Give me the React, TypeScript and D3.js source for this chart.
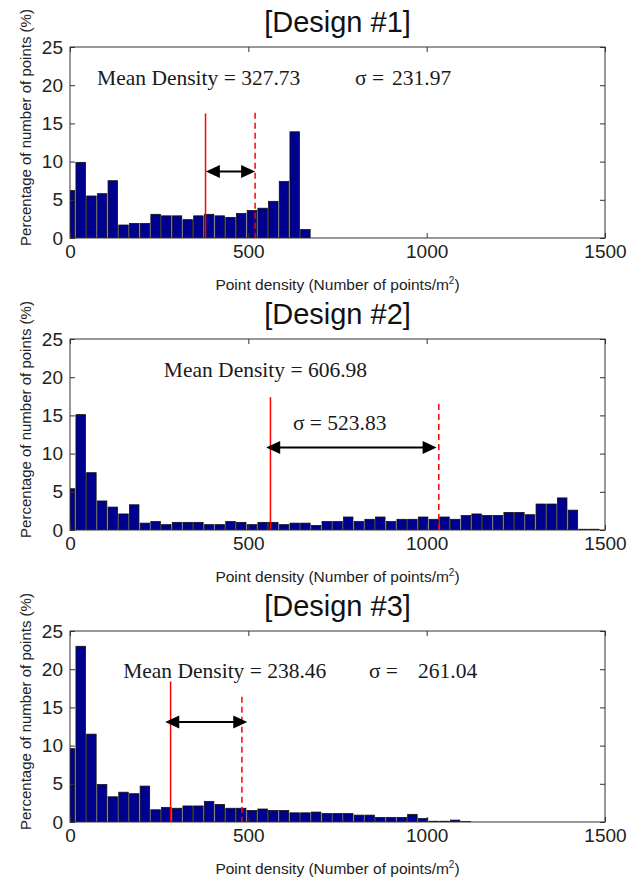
import React, { useEffect, useRef } from 'react'
import * as d3 from 'd3'

// histogram bin width (units of points/m^2), bins centred at 0, 30, 60 ...
const binWidth = 30

// percentage of number of points in each bin
const design1 = [6.2, 9.9, 5.5, 5.8, 7.5, 1.7, 1.9, 1.9, 3.1, 2.9, 2.9, 2.4, 2.9, 3.1, 2.9, 2.7,
  3.2, 3.6, 3.9, 4.8, 7.4, 13.9, 1.1]
const design2 = [5.4, 15.1, 7.5, 3.8, 3.0, 2.1, 3.3, 0.9, 1.1, 0.7, 1.0, 1.0, 1.0, 0.7, 0.7, 1.1,
  1.0, 0.7, 1.0, 1.0, 0.7, 0.9, 0.9, 0.6, 1.1, 1.1, 1.7, 1.1, 1.4, 1.7, 1.1, 1.4, 1.4, 1.7, 1.4,
  1.7, 1.4, 1.9, 2.1, 1.9, 1.9, 2.3, 2.3, 2.0, 3.4, 3.4, 4.2, 2.6, 0.1, 0.1]
const design3 = [9.6, 23.0, 11.5, 4.9, 3.3, 3.9, 3.7, 4.7, 1.6, 1.9, 1.8, 2.1, 2.1, 2.7, 2.3, 1.8,
  1.8, 1.5, 1.7, 1.5, 1.5, 1.2, 1.2, 1.3, 1.1, 1.1, 1.1, 0.9, 0.9, 0.6, 0.6, 0.6, 1.0, 0.45, 0.1,
  0.1, 0.25, 0.05]

const titles = ['[Design #1]', '[Design #2]', '[Design #3]']
const xTicks = [0, 500, 1000, 1500]
const yTicks = [0, 5, 10, 15, 20, 25]

// annotations (x in points/m^2, y in %)
const meanLabels = ['Mean Density = 327.73', 'Mean Density = 606.98', 'Mean Density = 238.46']
const meanLabelX = [76, 263, 149]
const meanLabelY = [20.0, 20.0, 18.8]
const sigmaSign = ['σ =', 'σ = 523.83', 'σ =']
const sigmaSignX = [799, 625, 838]
const sigmaValue = ['231.97', '', '261.04']
const sigmaValueX = [903, 0, 976]
const sigmaY = [20.0, 13.1, 18.8]

const solidLineX = [380, 562, 282]
const solidLineTop = [16.3, 17.4, 18.4]
const dashedLineX = [519, 1034, 482]
const dashedLineTop = [16.4, 16.5, 16.4]
const arrowFrom = [381, 550, 267]
const arrowTo = [519, 1028, 497]
const arrowY = [8.7, 10.8, 13.1]

const values = [design1, design2, design3]

export default function App() {
  const ref = useRef<SVGSVGElement>(null)

  useEffect(() => {
    const svg = d3.select(ref.current)
    svg.selectAll('*').remove()

    const left = 70, right = 605, plotH = 191
    const tops = [47, 339, 631]
    const x = d3.scaleLinear().domain([0, 1500]).range([left, right])
    const sans = "Arial, 'Liberation Sans', sans-serif"
    const serif = "'Times New Roman', 'Liberation Serif', serif"
    const fmt = d3.format('d')

    values.forEach((vals, i) => {
      const top = tops[i], bottom = top + plotH
      const y = d3.scaleLinear().domain([0, 25]).range([bottom, top])
      const g = svg.append('g')

      const clipId = 'plotclip' + i
      svg.append('clipPath').attr('id', clipId)
        .append('rect').attr('x', left).attr('y', top).attr('width', right - left).attr('height', plotH)

      // bars
      const bw = x(binWidth) - x(0)
      g.append('g').attr('clip-path', `url(#${clipId})`)
        .selectAll('rect').data(vals).join('rect')
        .attr('x', (d, j) => x(j * binWidth - binWidth / 2) + 0.6)
        .attr('width', bw - 1.2)
        .attr('y', d => y(d))
        .attr('height', d => y(0) - y(d))
        .attr('fill', '#000090')
        .attr('stroke', '#111')
        .attr('stroke-width', 0.8)

      // axes, matlab style ticks inside on all sides
      const styleAxis = (a: any) => {
        a.select('.domain').remove()
        a.selectAll('line').attr('stroke', '#333')
        a.selectAll('text').attr('font-family', sans).attr('font-size', 19).attr('fill', '#222')
      }
      g.append('g').attr('transform', `translate(0,${bottom})`)
        .call(d3.axisBottom(x).tickValues(xTicks).tickFormat(fmt).tickSize(-5).tickPadding(7))
        .call(styleAxis)
      g.append('g').attr('transform', `translate(0,${top})`)
        .call(d3.axisTop(x).tickValues(xTicks).tickSize(-5).tickFormat(() => ''))
        .call(styleAxis)
      g.append('g').attr('transform', `translate(${left},0)`)
        .call(d3.axisLeft(y).tickValues(yTicks).tickFormat(fmt).tickSize(-5).tickPadding(7))
        .call(styleAxis)
      g.append('g').attr('transform', `translate(${right},0)`)
        .call(d3.axisRight(y).tickValues(yTicks).tickSize(-5).tickFormat(() => ''))
        .call(styleAxis)

      g.append('rect').attr('x', left).attr('y', top).attr('width', right - left).attr('height', plotH)
        .attr('fill', 'none').attr('stroke', '#333').attr('stroke-width', 1)

      // title
      g.append('text').attr('x', (left + right) / 2).attr('y', top - 15)
        .attr('text-anchor', 'middle').attr('font-family', sans).attr('font-size', 29).attr('fill', '#111')
        .text(titles[i])

      // x label
      const xl = g.append('text').attr('x', (left + right) / 2).attr('y', bottom + 52)
        .attr('text-anchor', 'middle').attr('font-family', sans).attr('font-size', 15.5).attr('fill', '#222')
      xl.append('tspan').text('Point density (Number of points/m')
      xl.append('tspan').attr('dy', -6).attr('font-size', 10).text('2')
      xl.append('tspan').attr('dy', 6).text(')')

      // y label
      g.append('text').attr('transform', `translate(31,${(top + bottom) / 2 - 15}) rotate(-90)`)
        .attr('text-anchor', 'middle').attr('font-family', sans).attr('font-size', 15).attr('fill', '#222')
        .text('Percentage of number of points (%)')

      // mean / sigma lines
      g.append('line').attr('x1', x(solidLineX[i])).attr('x2', x(solidLineX[i]))
        .attr('y1', y(solidLineTop[i])).attr('y2', y(0))
        .attr('stroke', '#ff0000').attr('stroke-width', 1.5)
      g.append('line').attr('x1', x(dashedLineX[i])).attr('x2', x(dashedLineX[i]))
        .attr('y1', y(dashedLineTop[i])).attr('y2', y(0))
        .attr('stroke', '#ff0000').attr('stroke-width', 1.5).attr('stroke-dasharray', '6,4')

      // double arrow
      const ay = y(arrowY[i]), ax1 = x(arrowFrom[i]), ax2 = x(arrowTo[i])
      const hl = 14, hh = 6.5
      g.append('line').attr('x1', ax1 + 4).attr('x2', ax2 - 4).attr('y1', ay).attr('y2', ay)
        .attr('stroke', '#000').attr('stroke-width', 2)
      g.append('path').attr('d', `M${ax1},${ay}L${ax1 + hl},${ay - hh}L${ax1 + hl},${ay + hh}Z`).attr('fill', '#000')
      g.append('path').attr('d', `M${ax2},${ay}L${ax2 - hl},${ay - hh}L${ax2 - hl},${ay + hh}Z`).attr('fill', '#000')

      // annotation text
      g.append('text').attr('x', x(meanLabelX[i])).attr('y', y(meanLabelY[i]))
        .attr('font-family', serif).attr('font-size', 21.5).attr('fill', '#1a1a1a')
        .text(meanLabels[i])
      g.append('text').attr('x', x(sigmaSignX[i])).attr('y', y(sigmaY[i]))
        .attr('font-family', serif).attr('font-size', 21.5).attr('fill', '#1a1a1a')
        .text(sigmaSign[i])
      if (sigmaValue[i]) {
        g.append('text').attr('x', x(sigmaValueX[i])).attr('y', y(sigmaY[i]))
          .attr('font-family', serif).attr('font-size', 21.5).attr('fill', '#1a1a1a')
          .text(sigmaValue[i])
      }
    })
  }, [])

  return (
    <svg ref={ref} width={635} height={878}
      style={{ position: 'absolute', left: 0, top: 0, background: '#fff' }} />
  )
}
